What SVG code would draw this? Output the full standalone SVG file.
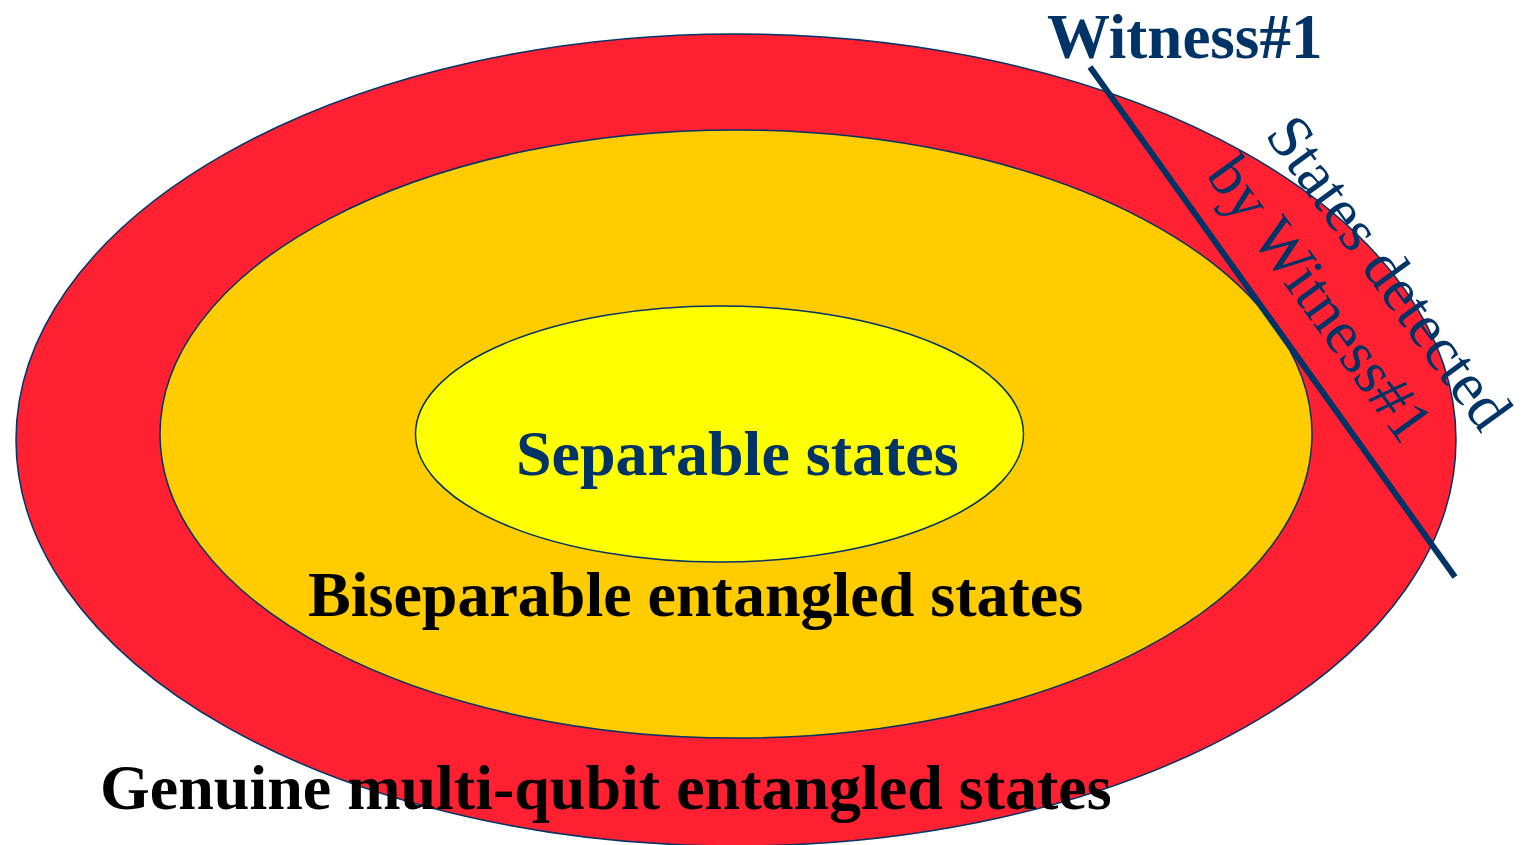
<svg xmlns="http://www.w3.org/2000/svg" width="1523" height="845" viewBox="0 0 1523 845">
<style>
.ell{stroke:#003366;stroke-width:1.5}
.t{font-family:"Liberation Serif","Times New Roman",serif;font-size:64px}
.b{font-weight:bold}
.navy{fill:#003366}
.blk{fill:#000000}
</style>
<rect width="1523" height="845" fill="#ffffff"/>
<g id="genuine">
<ellipse class="ell" cx="736" cy="440" rx="720" ry="406" fill="#FF2131"/>
</g>
<g id="biseparable">
<ellipse class="ell" cx="736" cy="434" rx="576" ry="304" fill="#FFCC00"/>
</g>
<g id="separable">
<ellipse class="ell" cx="719.5" cy="434" rx="304" ry="128" fill="#FFFF00"/>
<text class="t b navy" x="516" y="475">Separable states</text>
</g>
<text class="t b blk" x="308" y="616">Biseparable entangled states</text>
<text class="t b blk" x="100" y="809">Genuine multi-qubit entangled states</text>
<g id="witness">
<line x1="1090" y1="67" x2="1455" y2="577" stroke="#003366" stroke-width="6"/>
<text class="t b navy" x="1047" y="58" style="font-size:63px">Witness#1</text>
<text class="t navy" style="font-size:62px" transform="translate(1264,135) rotate(54)">States detected</text>
<text class="t navy" style="font-size:62px" transform="translate(1205,175) rotate(54)">by Witness#1</text>
</g>
</svg>
